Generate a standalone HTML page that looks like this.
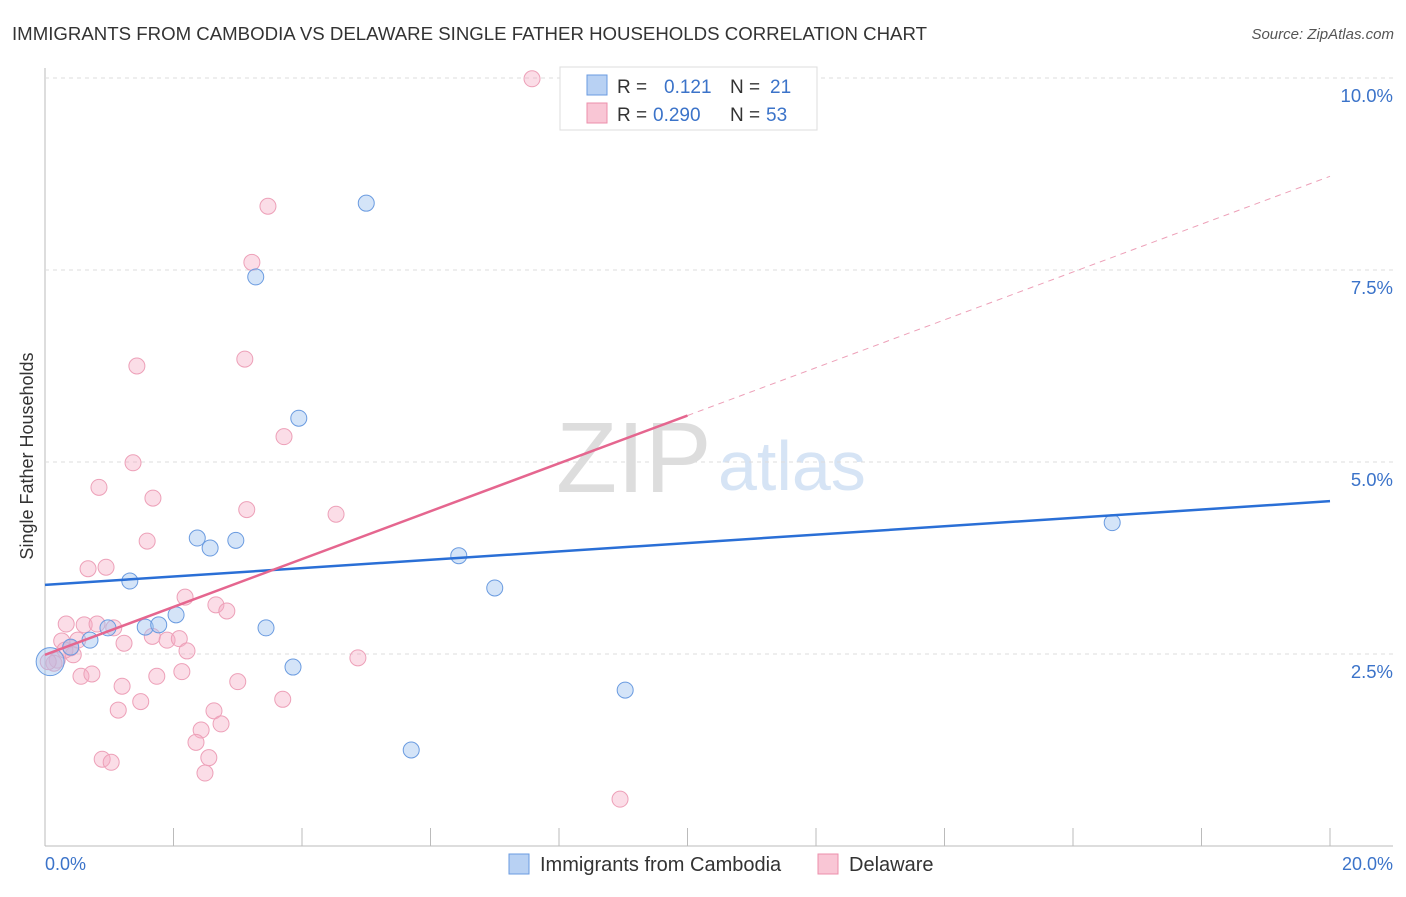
<!DOCTYPE html>
<html><head><meta charset="utf-8"><style>
body{margin:0;background:#fff;font-family:"Liberation Sans",sans-serif}
svg text{font-family:"Liberation Sans",sans-serif}
</style></head><body>
<svg id="c" width="1406" height="892">
<text x="12" y="40" font-size="18" fill="#333" textLength="915" lengthAdjust="spacingAndGlyphs">IMMIGRANTS FROM CAMBODIA VS DELAWARE SINGLE FATHER HOUSEHOLDS CORRELATION CHART</text>
<text x="1394" y="39" font-size="15" fill="#555" font-style="italic" text-anchor="end">Source: ZipAtlas.com</text>
<text x="556" y="492" font-size="100" fill="#ddd" font-family="Liberation Serif">ZIP</text>
<text x="718" y="490" font-size="70" fill="#d6e4f5">atlas</text>
<g id="grid"></g><g id="pts"></g><g id="lines"></g>
<text transform="translate(33,456) rotate(-90)" font-size="18" fill="#333" text-anchor="middle">Single Father Households</text>
<text x="45" y="870" font-size="18" fill="#3b73c9">0.0%</text>
<text x="1393" y="870" font-size="18" fill="#3b73c9" text-anchor="end">20.0%</text>
<g>
<rect x="560" y="67" width="257" height="63" fill="#fff" stroke="#ddd"/>
<rect x="587" y="75" width="20" height="20" fill="#b8d1f3" stroke="#6a9be0"/>
<rect x="587" y="103" width="20" height="20" fill="#f9c6d5" stroke="#ec8fab"/>
<text x="617" y="93" font-size="19" fill="#333">R =</text><text x="664" y="93" font-size="19" fill="#3b73c9">0.121</text>
<text x="730" y="93" font-size="19" fill="#333">N =</text><text x="770" y="93" font-size="19" fill="#3b73c9">21</text>
<text x="617" y="121" font-size="19" fill="#333">R =</text><text x="653" y="121" font-size="19" fill="#3b73c9">0.290</text>
<text x="730" y="121" font-size="19" fill="#333">N =</text><text x="766" y="121" font-size="19" fill="#3b73c9">53</text>
</g>
<g>
<rect x="509" y="854" width="20" height="20" fill="#b8d1f3" stroke="#6a9be0"/>
<text x="540" y="871" font-size="20" fill="#333">Immigrants from Cambodia</text>
<rect x="818" y="854" width="20" height="20" fill="#f9c6d5" stroke="#ec8fab"/>
<text x="849" y="871" font-size="20" fill="#333">Delaware</text>
</g>
</svg>
<script>
const blueX=[0.08,0.40,0.70,0.98,1.32,1.56,1.77,2.04,2.37,2.57,2.97,3.28,3.44,3.86,3.95,5.00,5.70,6.44,7.00,9.03,16.61];
const blueY=[2.40,2.59,2.68,2.84,3.45,2.85,2.88,3.01,4.01,3.88,3.98,7.41,2.84,2.33,5.57,8.37,1.25,3.78,3.36,2.03,4.21];
const pinkX=[7.58,3.47,3.22,1.43,3.11,3.72,1.37,0.84,1.68,4.53,3.14,1.59,0.67,0.95,2.18,2.66,2.83,0.33,0.61,0.81,1.07,0.26,0.51,1.23,1.67,1.90,2.09,2.21,0.40,0.44,0.19,0.14,4.87,0.56,0.73,1.74,2.13,1.20,3.00,1.49,1.14,3.70,2.63,2.74,2.43,2.35,2.55,2.49,0.89,1.03,8.95,0.05,0.31];
const pinkY=[9.99,8.33,7.60,6.25,6.34,5.33,4.99,4.67,4.53,4.32,4.38,3.97,3.61,3.63,3.24,3.14,3.06,2.89,2.88,2.89,2.84,2.67,2.68,2.64,2.73,2.68,2.70,2.54,2.58,2.49,2.42,2.38,2.45,2.21,2.24,2.21,2.27,2.08,2.14,1.88,1.77,1.91,1.76,1.59,1.51,1.35,1.15,0.95,1.13,1.09,0.61,2.40,2.55];
const yTicks=[2.5,5.0,7.5,10.0];
const yTickLabels=["2.5%","5.0%","7.5%","10.0%"];
const xTicks=[2,4,6,8,10,12,14,16,18,20];
const blueTrend=[3.40,4.49];
const pinkTrend=[2.49,8.72];
const pinkSolidEnd=10.0;
const X=v=>45+v*64.25, Y=v=>846-v*76.8;
const NS="http://www.w3.org/2000/svg";
function mk(p,t,a){const e=document.createElementNS(NS,t);for(const k in a)e.setAttribute(k,a[k]);p.appendChild(e);return e;}
const g=document.getElementById('grid'),P=document.getElementById('pts'),L=document.getElementById('lines');
let e=mk(g,'line',{x1:45,y1:68,x2:45,y2:846,stroke:'#bbb'});


e=mk(g,'line',{x1:45,y1:846,x2:1393,y2:846,stroke:'#bbb'});


yTicks.forEach((t,i)=>{
 e=mk(g,'line',{x1:45,y1:Y(t),x2:1393,y2:Y(t),stroke:'#ddd','stroke-dasharray':'4,4'});
 
 
 e=mk(g,'text',{x:1393,y:Y(t)+24,'font-size':18.5,fill:'#3b73c9','text-anchor':'end'});
 e.textContent=yTickLabels[i];
 
 
});
xTicks.forEach(t=>{
 e=mk(g,'line',{x1:X(t),y1:828,x2:X(t),y2:846,stroke:'#bbb'});
 
 
});
pinkX.forEach((x,i)=>{
 e=mk(P,'circle',{cx:X(x),cy:Y(pinkY[i]),r:8,fill:'rgba(246,170,195,0.4)',stroke:'#eda0b8','stroke-width':1});
 
 
});
blueX.forEach((x,i)=>{
 e=mk(P,'circle',{cx:X(x),cy:Y(blueY[i]),r:i==0?14:8,fill:'rgba(160,195,240,0.45)',stroke:'#6a9be0','stroke-width':1});
 
 
});
e=mk(L,'line',{x1:X(0),y1:Y(blueTrend[0]),x2:X(20),y2:Y(blueTrend[1]),stroke:'#2a6fd6','stroke-width':2.5});


const pm=pinkTrend[0]+(pinkTrend[1]-pinkTrend[0])*pinkSolidEnd/20;
e=mk(L,'line',{x1:X(0),y1:Y(pinkTrend[0]),x2:X(pinkSolidEnd),y2:Y(pm),stroke:'#e5668f','stroke-width':2.5});


e=mk(L,'line',{x1:X(pinkSolidEnd),y1:Y(pm),x2:X(20),y2:Y(pinkTrend[1]),stroke:'#eda0b8','stroke-width':1,'stroke-dasharray':'6,5'});


</script>
</body></html>
